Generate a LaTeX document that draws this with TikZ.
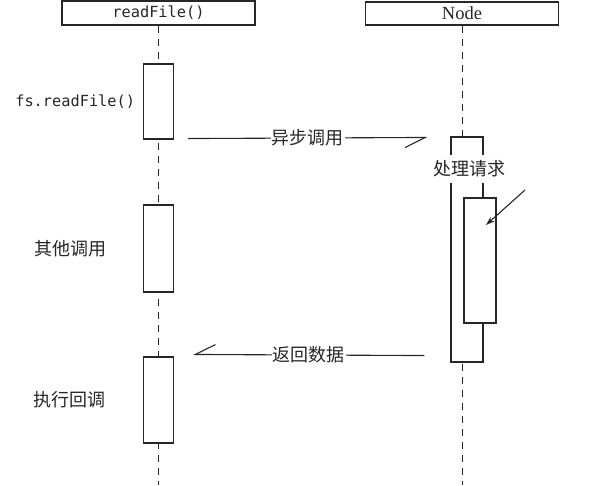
\documentclass[tikz,border=0pt]{standalone}
\usepackage{fontspec}
\setmonofont{DejaVu Sans Mono}
\newfontfamily\cjk{Noto Sans CJK SC}
\newfontfamily\headfont{Liberation Serif}
\usetikzlibrary{arrows.meta,positioning}

\begin{document}
\begin{tikzpicture}[x=1pt,y=-1pt,line width=1.1pt,draw=black!85,
    every node/.style={font=\fontsize{18}{20}\selectfont\cjk,text=black!85},
    head/.style={draw,minimum width=193pt,minimum height=24pt,inner sep=0pt},
    act/.style={draw,fill=white,minimum width=30pt,inner sep=0pt},
    lifeline/.style={dash pattern=on 7pt off 6pt,line width=1pt},
    msg/.style={-{Straight Barb[right,length=20pt,width=20pt]}},
    msglabel/.style={fill=white,inner xsep=1pt,inner ysep=2pt}]
    \useasboundingbox (0,0) rectangle (597,485);
    % heads and lifelines
    \node[head] (rf) at (158.5,13) {\ttfamily\fontsize{15.3}{18}\selectfont readFile()};
    \node[head,minimum height=23pt] (nd) at (462,13.5) {\headfont\fontsize{18.5}{20}\selectfont Node};
    \coordinate (rfend) at (158,485);
    \coordinate (ndend) at (462,485);
    \draw[lifeline] (rf.south) -- (rf.south |- rfend);
    \draw[lifeline] (nd.south) -- (nd.south |- ndend);
    % activations
    \node[act,minimum height=75pt] (act1) at (158.5,101.5) {};
    \node[act,minimum height=87pt] (act2) at (158.5,248.5) {};
    \node[act,minimum height=86pt] (act3) at (158.5,400) {};
    \node[act,minimum width=32pt,minimum height=225pt] (outer) at (467,249.5) {};
    \node[act,minimum width=32pt,minimum height=125pt] (inner) at (480,260.5) {};
    % labels
    \node[left=4pt of act1] (l1) {\ttfamily\fontsize{15.3}{18}\selectfont fs.readFile()};
    \node[left=33pt of act2] (l2) {其他调用};
    \node[left=34pt of act3] (l3) {执行回调};
    \node[fill=white,inner xsep=1pt,inner ysep=6pt] (proc) at (469.5,169) {处理请求};
    \coordinate (ptr) at (525,190);
    \coordinate (ptrtip) at (486,225);
    \draw[-{Stealth[length=9pt,width=6pt]}] (ptr) -- (ptrtip);
    % messages
    \draw[msg] ([xshift=14pt,yshift=1pt]act1.south east) -- node[msglabel] {异步调用} ([xshift=-23pt,yshift=-1pt]outer.north west);
    \draw[msg] ([xshift=-26pt,yshift=7pt]outer.south west) -- node[msglabel] {返回数据} ([xshift=19pt,yshift=2pt]act3.north east);
\end{tikzpicture}
\end{document}
